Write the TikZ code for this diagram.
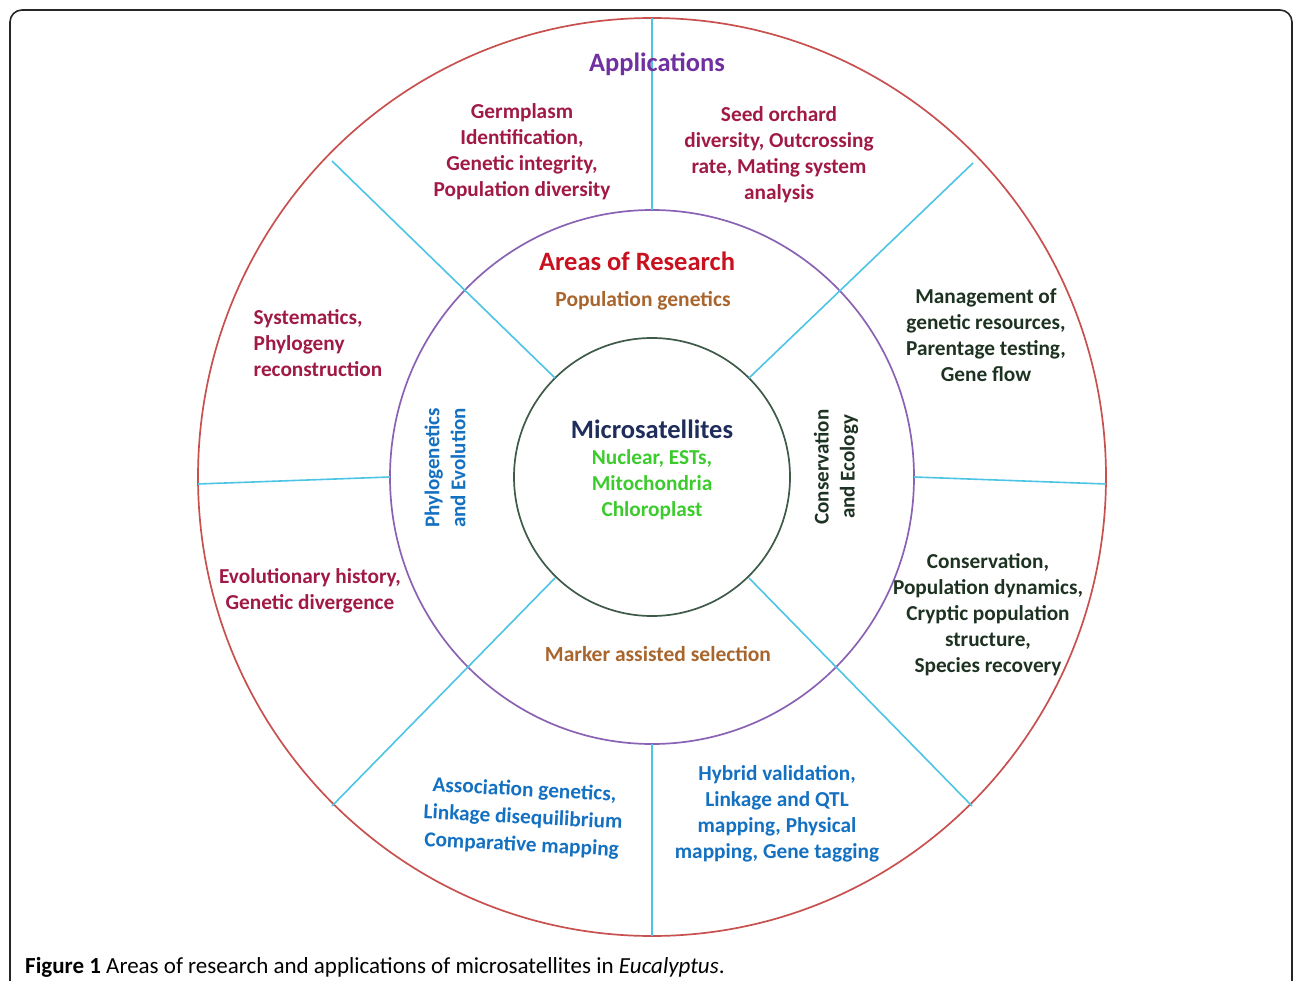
\documentclass[tikz,border=0pt]{standalone}
\usepackage{fontspec}
\setmainfont{Carlito}
\usetikzlibrary{positioning}

\definecolor{ringred}{HTML}{C8504F}
\definecolor{ringpurple}{HTML}{8A62B4}
\definecolor{ringgreen}{HTML}{3E5A48}
\definecolor{spokeblue}{HTML}{4CC4E4}
\definecolor{appred}{HTML}{A01A45}
\definecolor{apppurple}{HTML}{7030A0}
\definecolor{areared}{HTML}{C8101E}
\definecolor{areabrown}{HTML}{A8662E}
\definecolor{microblue}{HTML}{1F2D5A}
\definecolor{microgreen}{HTML}{3CCB2C}
\definecolor{topicblue}{HTML}{1470C0}
\definecolor{topicdark}{HTML}{1E3222}

\tikzset{
  ring/.style={line width=1.7},
  spoke/.style={draw=spokeblue, line width=1.6},
  applabel/.style={align=center, inner sep=0pt, font=\fontsize{21.3}{26}\selectfont\bfseries},
  heading/.style={inner sep=0pt, font=\fontsize{26.5}{30}\selectfont\bfseries},
  arealabel/.style={inner sep=0pt, text=areabrown, font=\fontsize{21.5}{26}\selectfont\bfseries},
  sidelabel/.style={align=center, inner sep=0pt, rotate=90, font=\fontsize{21}{26}\selectfont\bfseries}
}

\begin{document}
\begin{tikzpicture}[x=1pt, y=-1pt]

    \useasboundingbox (0,0) rectangle (1293,981);
    \clip (0,0) rectangle (1293,981);

    % frame
    \draw [rounded corners=12, line width=1.6, black!85] (10,1010) -- (10,10) -- (1292,10) -- (1292,1010);

    % rings
    \coordinate (c) at (652,477);
    \draw [ring, draw=ringred] (c) ellipse [x radius=454, y radius=459];
    \draw [ring, draw=ringpurple] (c) ellipse [x radius=262, y radius=267];
    \draw [ring, draw=ringgreen] (c) ellipse [x radius=138, y radius=139];

    % spokes
    \draw [spoke] (652,18) -- (652,210);
    \draw [spoke] (652,744) -- (652,936);
    \draw [spoke] (198,484) -- (390,477);
    \draw [spoke] (914,477) -- (1106,484);
    \draw [spoke] (332,161) -- (555,378);
    \draw [spoke] (973,163) -- (749,378);
    \draw [spoke] (332,806) -- (555,578);
    \draw [spoke] (972,806) -- (749,578);

    % outer ring: applications
    \node [heading, text=apppurple] (apps) at (657,64) {Applications};
    \node [applabel, text=appred] (germ) at (522,152) {Germplasm\\Identification,\\Genetic integrity,\\Population diversity};
    \node [applabel, text=appred] (seed) at (779,155) {Seed orchard\\diversity, Outcrossing\\rate, Mating system\\analysis};
    \node [applabel, text=appred, align=left] (syst) at (318,343) {Systematics,\\Phylogeny\\reconstruction};
    \node [applabel, text=appred] (evol) at (310,591) {Evolutionary history,\\Genetic divergence};
    \node [applabel, text=topicdark] (mgmt) at (986,335) {Management of\\genetic resources,\\Parentage testing,\\Gene flow};
    \node [applabel, text=topicdark] (cons) at (988,615) {Conservation,\\Population dynamics,\\Cryptic population\\structure,\\Species recovery};
    \node [applabel, text=topicblue, rotate=-3, font=\fontsize{21.3}{27.5}\selectfont\bfseries] (assoc) at (523,818) {Association genetics,\\Linkage disequilibrium\\Comparative mapping};
    \node [applabel, text=topicblue] (hybrid) at (777,814) {Hybrid validation,\\Linkage and QTL\\mapping, Physical\\mapping, Gene tagging};

    % middle ring: areas of research
    \node [heading, text=areared] (areas) at (637,261) {Areas of Research};
    \node [arealabel] (popgen) at (643,301) {Population genetics};
    \node [arealabel] (mas) at (658,654) {Marker assisted selection};
    \node [sidelabel, text=topicblue] (phylo) at (445,468) {Phylogenetics\\and Evolution};
    \node [sidelabel, text=topicdark] (conseco) at (836,467) {Conservation\\and Ecology};

    % centre
    \node [heading, text=microblue] (micro) at (652,429) {Microsatellites};
    \node [applabel, text=microgreen] (types) at (652,485) {Nuclear, ESTs,\\Mitochondria\\Chloroplast};

    % caption
    \node [anchor=west, inner sep=0pt, font=\fontsize{23}{26}\selectfont] (caption) at (25,967)
        {\textbf{Figure 1} Areas of research and applications of microsatellites in \textit{Eucalyptus}.};

\end{tikzpicture}
\end{document}
